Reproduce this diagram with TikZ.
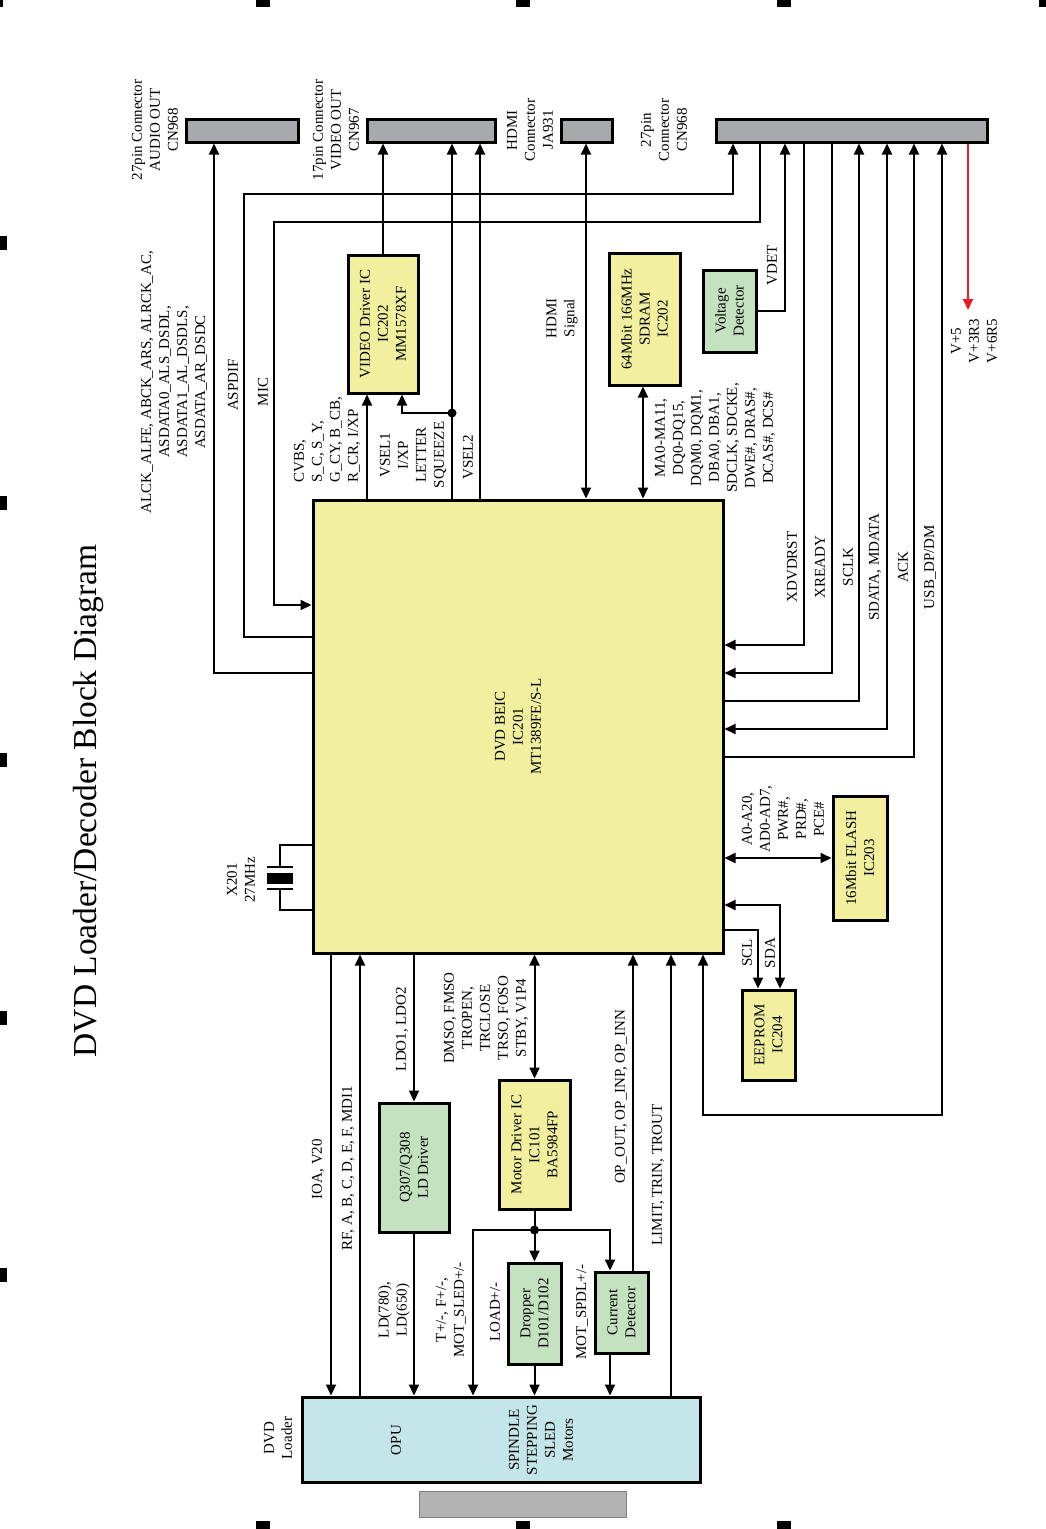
\documentclass[tikz,border=0pt]{standalone}
\usepackage{fontspec}
\setmainfont{Liberation Serif}
\usetikzlibrary{arrows.meta}
\definecolor{ylw}{RGB}{242,239,158}
\definecolor{grn}{RGB}{197,226,192}
\definecolor{blu}{RGB}{196,229,234}
\definecolor{cgray}{RGB}{167,169,172}
\definecolor{pgray}{RGB}{179,179,179}
\definecolor{vred}{RGB}{237,28,36}
\tikzset{
  box/.style={draw, line width=3pt, inner sep=0pt},
  ybox/.style={box, fill=ylw},
  gbox/.style={box, fill=grn},
  bbox/.style={box, fill=blu},
  conn/.style={draw, line width=3pt, fill=cgray, inner sep=0pt},
  wire/.style={line width=2pt},
  arr/.style={wire, -{Triangle[length=11pt,width=10pt]}},
  barr/.style={wire, {Triangle[length=11pt,width=10pt]}-{Triangle[length=11pt,width=10pt]}},
  txt/.style={rotate=90, align=center, font=\fontsize{15}{18}\selectfont, inner sep=0pt},
  jdot/.style={circle, fill, inner sep=0pt, minimum size=9pt},
  regmark/.style={fill=black}
}
\begin{document}
\begin{tikzpicture}[x=1pt,y=-1pt]
\useasboundingbox (0,0) rectangle (1046,1529);
% registration marks
\foreach \xx in {256,516,777} {
  \fill[regmark] (\xx,0) rectangle ++(14,7);
  \fill[regmark] (\xx,1521) rectangle ++(14,8);
}
\fill[regmark] (0,0) rectangle (3,7);
\fill[regmark] (1039,0) rectangle (1046,7);
\foreach \yy in {236,496,753,1011,1268} {
  \fill[regmark] (0,\yy) rectangle ++(7,14);
}
% bottom gray bar
\draw[draw=gray, line width=1pt, fill=pgray] (419,1491) rectangle (626,1517);

% title
\node[txt, font=\fontsize{33.5}{40}\selectfont] (title) at (88,801) {DVD Loader/Decoder Block Diagram};

% connectors
\node[conn, minimum width=112pt, minimum height=23pt] (cn1) at (242,130.5) {};
\node[conn, minimum width=128pt, minimum height=23pt] (cn2) at (431,130.5) {};
\node[conn, minimum width=51pt, minimum height=23pt] (cn3) at (586.5,130.5) {};
\node[conn, minimum width=271pt, minimum height=23pt] (cn4) at (851.5,130.5) {};
\node[txt] (lcn1) at (155,130) {27pin Connector\\AUDIO OUT\\CN968};
\node[txt] (lcn2) at (336,130) {17pin Connector\\VIDEO OUT\\CN967};
\node[txt] (lcn3) at (530,130) {HDMI\\Connector\\JA931};
\node[txt] (lcn4) at (664,130) {27pin\\Connector\\CN968};

% boxes
\node[ybox, minimum width=410pt, minimum height=453pt] (main) at (518,726.5) {};
\node[ybox, minimum width=70pt, minimum height=138pt] (vd) at (383,324) {};
\node[ybox, minimum width=71pt, minimum height=132pt] (sdram) at (644.5,319) {};
\node[gbox, minimum width=53pt, minimum height=82pt] (vdet) at (729.5,311) {};
\node[ybox, minimum width=54pt, minimum height=124pt] (flash) at (860,858) {};
\node[ybox, minimum width=53pt, minimum height=90pt] (eeprom) at (768.5,1035) {};
\node[gbox, minimum width=70pt, minimum height=129pt] (ldd) at (414,1167.5) {};
\node[ybox, minimum width=71pt, minimum height=129pt] (mdrv) at (534.5,1144.5) {};
\node[gbox, minimum width=53pt, minimum height=101pt] (drop) at (534.5,1313.5) {};
\node[gbox, minimum width=53pt, minimum height=81pt] (cdet) at (621.5,1312.5) {};
\node[bbox, minimum width=398pt, minimum height=85pt] (opu) at (501,1439.5) {};

\node[txt] at (main) {DVD BEIC\\IC201\\MT1389FE/S-L};
\node[txt] at (vd) {VIDEO Driver IC\\IC202\\MM1578XF};
\node[txt] at (sdram) {64Mbit 166MHz\\SDRAM\\IC202};
\node[txt] at (vdet) {Voltage\\Detector};
\node[txt] at (flash) {16Mbit FLASH\\IC203};
\node[txt] at (eeprom) {EEPROM\\IC204};
\node[txt] at (ldd) {Q307/Q308\\LD Driver};
\node[txt] at (mdrv) {Motor Driver IC\\IC101\\BA5984FP};
\node[txt] at (drop) {Dropper\\D101/D102};
\node[txt] at (cdet) {Current\\Detector};
\node[txt] (tdvd) at (278,1438) {DVD\\Loader};
\node[txt] (topu) at (396,1440) {OPU};
\node[txt] (tmot) at (541,1440) {SPINDLE\\STEPPING\\SLED\\Motors};

% x / y helper coordinates
\coordinate (xA) at (214,0);
\coordinate (xB) at (244,0);
\coordinate (xE) at (274,0);
\coordinate (xC) at (733,0);
\coordinate (xD) at (760,0);
\coordinate (yA) at (0,673);
\coordinate (yB) at (0,637);
\coordinate (yBt) at (0,194);
\coordinate (yDt) at (0,222);
\coordinate (yE) at (0,605);

% top-left wires
\draw[arr] (main.west |- yA) -| (xA |- cn1.south);
\draw[arr] (main.west |- yB) -| (xB |- yBt) -| (xC |- cn4.south);
\draw[arr] (xD |- cn4.south) |- (xE |- yDt) |- (main.west |- yE);

% video
\coordinate (xcv) at (367,0);
\coordinate (xvs) at (452,0);
\coordinate (xvs2) at (480,0);
\coordinate (xvb) at (402,0);
\coordinate (jv) at (452,413);
\draw[arr] (xcv |- main.north) -- (xcv |- vd.south);
\draw[arr] (vd.north) -- (vd.north |- cn2.south);
\draw[arr] (xvs |- main.north) -- (xvs |- cn2.south);
\draw[arr] (jv) -| (xvb |- vd.south);
\node[jdot] (jvd) at (jv) {};
\draw[arr] (xvs2 |- main.north) -- (xvs2 |- cn2.south);

% HDMI, SDRAM
\coordinate (xh) at (586,0);
\coordinate (xsd) at (643,0);
\draw[barr] (xh |- main.north) -- (xh |- cn3.south);
\draw[barr] (xsd |- main.north) -- (xsd |- sdram.south);

% voltage detector, power
\coordinate (xvd) at (785,0);
\coordinate (xp) at (968,0);
\coordinate (yp) at (0,310);
\draw[arr] (vdet.east) -| (xvd |- cn4.south);
\draw[arr, vred] (xp |- cn4.south) -- (xp |- yp);

% right side signals
\coordinate (x1) at (804,0);
\coordinate (x2) at (832,0);
\coordinate (x3) at (859,0);
\coordinate (x4) at (887,0);
\coordinate (x5) at (914,0);
\coordinate (x6) at (942,0);
\coordinate (xu) at (703,0);
\coordinate (yu) at (0,1115);
\draw[arr] (x1 |- cn4.south) |- (main.east |- 0,645);
\draw[arr] (x2 |- cn4.south) |- (main.east |- 0,673);
\draw[arr] (main.east |- 0,701) -| (x3 |- cn4.south);
\draw[barr] (main.east |- 0,729) -| (x4 |- cn4.south);
\draw[arr] (main.east |- 0,757) -| (x5 |- cn4.south);
\draw[barr] (x6 |- cn4.south) |- (xu |- yu) -- (xu |- main.south);

% flash, eeprom
\coordinate (xscl) at (758,0);
\coordinate (xsda) at (780,0);
\draw[barr] (main.east |- flash.west) -- (flash.west);
\draw[arr] (main.east |- 0,930) -| (xscl |- eeprom.north);
\draw[barr] (xsda |- eeprom.north) |- (main.east |- 0,905);

% crystal
\draw[wire] (main.west |- 0,845) -- (280,845) -- (280,867);
\draw[wire] (main.west |- 0,910) -- (280,910) -- (280,889);
\draw[line width=2.5pt] (267,867) -- (293,867);
\draw[line width=2.5pt] (267,889) -- (293,889);
\fill (267,873) rectangle (293,884);

% bottom wires
\coordinate (xio) at (331,0);
\coordinate (xrf) at (360,0);
\coordinate (xt) at (473,0);
\coordinate (xsp) at (610,0);
\coordinate (xop) at (633,0);
\coordinate (xli) at (671,0);
\coordinate (jm) at (534.5,1230);
\draw[arr] (xio |- main.south) -- (xio |- opu.north);
\draw[arr] (xrf |- opu.north) -- (xrf |- main.south);
\draw[arr] (ldd.north |- main.south) -- (ldd.north);
\draw[arr] (ldd.south) -- (ldd.south |- opu.north);
\draw[barr] (mdrv.north |- main.south) -- (mdrv.north);
\draw[wire] (mdrv.south) -- (jm);
\draw[arr] (jm) -- (drop.north);
\draw[arr] (jm) -| (xt |- opu.north);
\draw[arr] (jm) -| (xsp |- cdet.north);
\node[jdot] (jmd) at (jm) {};
\draw[arr] (drop.south) -- (drop.south |- opu.north);
\draw[arr] (xsp |- cdet.south) -- (xsp |- opu.north);
\draw[arr] (xop |- cdet.north) -- (xop |- main.south);
\draw[arr] (xli |- opu.north) -- (xli |- main.south);

% labels
\node[txt] (l1) at (174,382) {ALCK\_ALFE, ABCK\_ARS, ALRCK\_AC,\\ASDATA0\_ALS\_DSDL,\\ASDATA1\_AL\_DSDLS,\\ASDATA\_AR\_DSDC};
\node[txt] (l2) at (233,385) {ASPDIF};
\node[txt] (l3) at (263,392) {MIC};
\node[txt, anchor=west, align=left] (l4) at (327,483) {CVBS,\\S\_C, S\_Y,\\G\_CY, B\_CB,\\R\_CR, I/XP};
\node[txt] (l5) at (413,455) {VSEL1\\I/XP\\LETTER\\SQUEEZE};
\node[txt] (l6) at (468,457) {VSEL2};
\node[txt] (l7) at (562,318) {HDMI\\Signal};
\node[txt] (l8) at (715,438) {MA0-MA11,\\DQ0-DQ15,\\DQM0, DQM1,\\DBA0, DBA1,\\SDCLK, SDCKE,\\DWE\#, DRAS\#,\\DCAS\#, DCS\#};
\node[txt] (l9) at (772,265) {VDET};
\node[txt] (l10) at (974,341) {V+5\\V+3R3\\V+6R5};
\node[txt] (l11) at (792,567) {XDVDRST};
\node[txt] (l12) at (820,567) {XREADY};
\node[txt] (l13) at (848,567) {SCLK};
\node[txt] (l14) at (875,567) {SDATA, MDATA};
\node[txt] (l15) at (903,567) {ACK};
\node[txt] (l16) at (930,567) {USB\_DP/DM};
\node[txt] (l17) at (783,819) {A0-A20,\\AD0-AD7,\\PWR\#,\\PRD\#,\\PCE\#};
\node[txt] (l18) at (747,953) {SCL};
\node[txt] (l19) at (770,953) {SDA};
\node[txt] (l20) at (241,880) {X201\\27MHz};
\node[txt] (l21) at (318,1169) {IOA, V20};
\node[txt] (l22) at (348,1168) {RF, A, B, C, D, E, F, MDI1};
\node[txt] (l23) at (402,1029) {LDO1, LDO2};
\node[txt] (l24) at (486,1018) {DMSO, FMSO\\TROPEN,\\TRCLOSE\\TRSO, FOSO\\STBY, V1P4};
\node[txt] (l25) at (621,1097) {OP\_OUT, OP\_INP, OP\_INN};
\node[txt] (l26) at (658,1175) {LIMIT, TRIN, TROUT};
\node[txt] (l27) at (394,1310) {LD(780),\\LD(650)};
\node[txt] (l28) at (451,1310) {T+/-, F+/-,\\MOT\_SLED+/-};
\node[txt] (l29) at (495,1312) {LOAD+/-};
\node[txt] (l30) at (582,1312) {MOT\_SPDL+/-};
\end{tikzpicture}
\end{document}
